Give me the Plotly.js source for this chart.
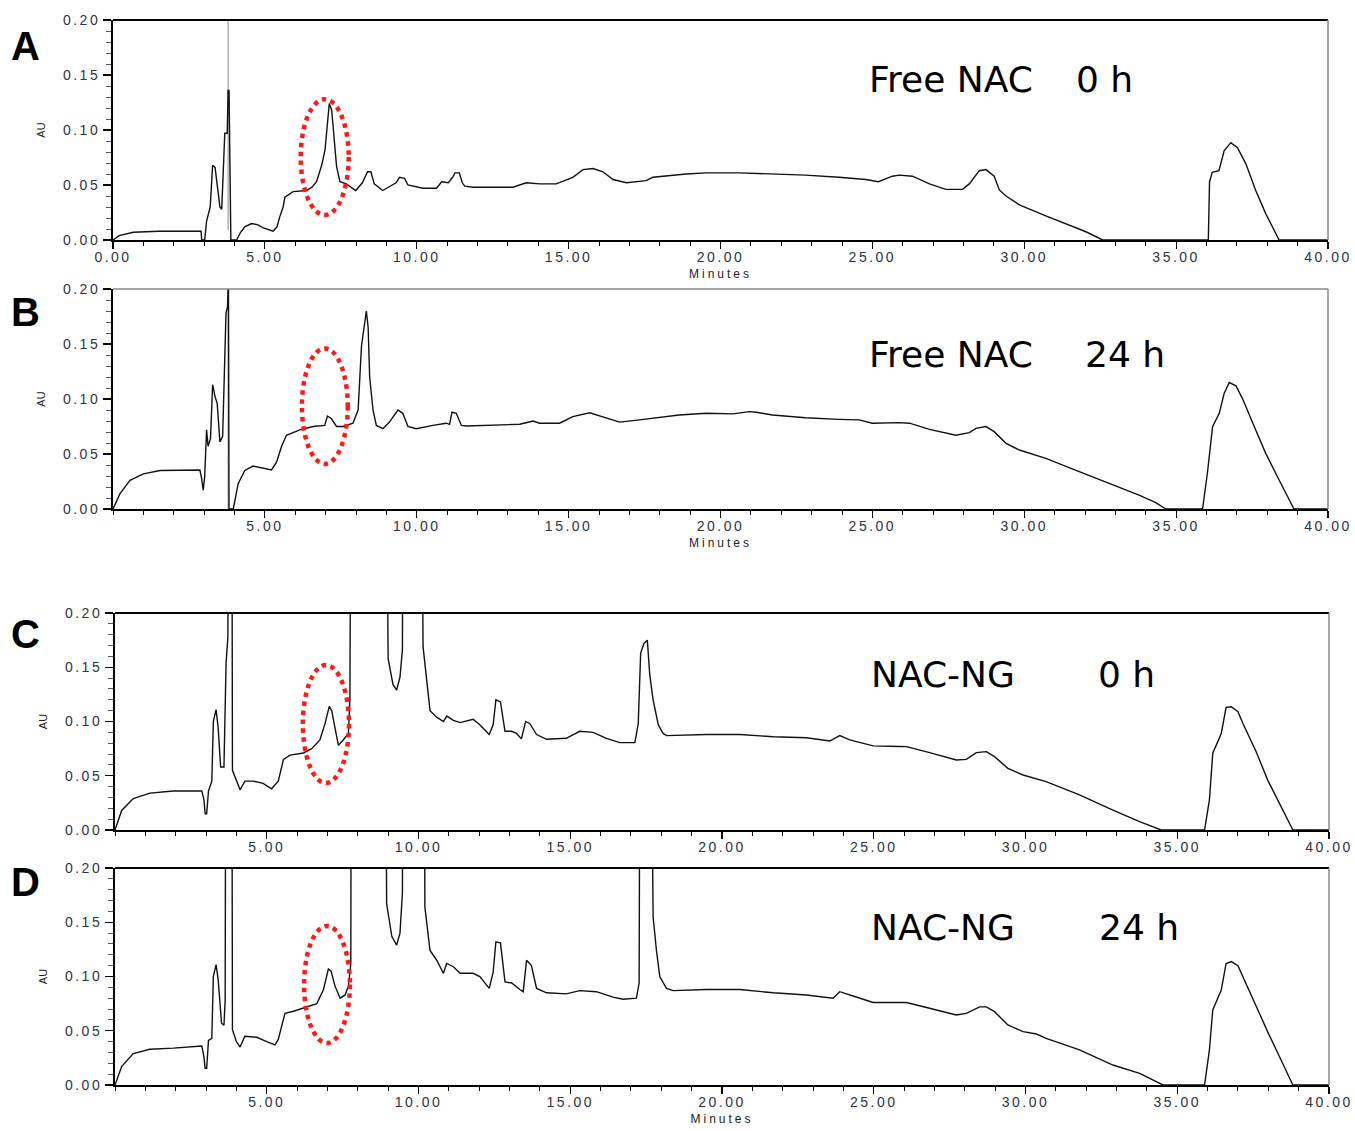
<!DOCTYPE html>
<html><head><meta charset="utf-8">
<script src="https://cdn.plot.ly/plotly-3.0.1.min.js"></script>
<style>
html,body{margin:0;padding:0;background:#fff;}
#chart{width:1355px;height:1131px;}
.xtick text,.x2tick text,.x3tick text,.x4tick text,
.ytick text,.y2tick text,.y3tick text,.y4tick text{letter-spacing:2.5px;}
.xtitle,.x2title,.x3title,.x4title{letter-spacing:3px;}
</style></head><body><div id="chart"></div>
<script>
// ---------- data (minutes, AU) ----------
const timeA = [0,0.2,0.67,1.5,2.9,2.92,3.02,3.08,3.2,3.28,3.36,3.45,3.52,3.58,3.63,3.68,3.76,3.79,3.82,3.84,3.86,3.88,4.07,4.2,4.34,4.56,4.75,4.95,5.27,5.4,5.49,5.6,5.66,5.8,5.93,6.37,6.55,6.7,6.87,6.98,7.05,7.12,7.2,7.28,7.36,7.47,7.68,7.99,8.21,8.38,8.49,8.6,8.88,9.32,9.43,9.6,9.71,10.2,10.65,10.82,11.04,11.18,11.26,11.4,11.5,11.58,11.85,13.17,13.6,14.04,14.59,15.14,15.47,15.8,16.13,16.46,16.9,17.55,17.77,18.87,19.53,20.62,21.71,22.8,23.9,24.78,25.2,25.66,25.89,26.32,26.88,27.42,27.97,28.19,28.52,28.74,29.01,29.18,29.4,29.84,30.71,31.37,32.03,32.58,36.06,36.1,36.19,36.41,36.58,36.8,37.02,37.3,37.62,37.95,38.22,38.39,40];
const auA   = [0,0.004,0.007,0.008,0.008,0,0,0.017,0.03,0.068,0.066,0.045,0.03,0.028,0.06,0.097,0.097,0.136,0.136,0.069,0.069,0,0,0.007,0.012,0.015,0.014,0.011,0.008,0.012,0.021,0.03,0.039,0.042,0.044,0.045,0.048,0.053,0.068,0.082,0.1,0.124,0.118,0.09,0.067,0.053,0.051,0.045,0.052,0.062,0.062,0.051,0.045,0.052,0.057,0.056,0.05,0.047,0.047,0.053,0.052,0.057,0.061,0.061,0.052,0.049,0.048,0.048,0.052,0.051,0.051,0.057,0.064,0.065,0.062,0.055,0.052,0.054,0.057,0.06,0.061,0.061,0.06,0.059,0.057,0.055,0.053,0.058,0.059,0.058,0.051,0.046,0.046,0.051,0.063,0.064,0.058,0.0455,0.04,0.032,0.022,0.015,0.0075,0,0,0.053,0.0615,0.063,0.081,0.0885,0.084,0.069,0.045,0.024,0.009,0,0];

const timeB = [0,0.23,0.56,1.0,1.55,2.86,2.91,2.97,3.02,3.08,3.13,3.21,3.28,3.36,3.43,3.52,3.61,3.66,3.72,3.77,3.8,3.82,3.96,4.12,4.34,4.61,4.93,5.22,5.39,5.55,5.71,6.15,6.59,6.97,7.06,7.19,7.36,7.58,7.9,8.07,8.18,8.27,8.34,8.4,8.45,8.56,8.67,8.89,9.1,9.38,9.54,9.71,9.98,10.53,10.97,11.08,11.16,11.3,11.47,11.63,13.39,13.83,14.04,14.7,15.14,15.69,16.13,16.68,17.33,17.88,18.64,19.53,20.41,20.95,21.17,21.71,22.8,23.9,24.56,25.0,25.88,26.22,26.88,27.75,28.19,28.41,28.74,29.01,29.4,29.84,30.71,31.81,32.91,33.78,34.33,34.66,35.87,36.03,36.2,36.42,36.58,36.75,36.97,37.18,37.62,37.95,38.39,38.66,38.88,40];
const auB   = [0,0.014,0.026,0.032,0.035,0.0354,0.029,0.017,0.03,0.072,0.057,0.064,0.113,0.102,0.096,0.061,0.066,0.114,0.178,0.184,0.21,0,0,0.023,0.035,0.039,0.037,0.0355,0.043,0.057,0.067,0.072,0.075,0.076,0.0845,0.082,0.075,0.075,0.078,0.09,0.148,0.167,0.18,0.165,0.12,0.09,0.076,0.073,0.079,0.09,0.087,0.075,0.073,0.076,0.078,0.077,0.088,0.087,0.076,0.0755,0.077,0.08,0.078,0.078,0.084,0.0875,0.084,0.079,0.081,0.083,0.0855,0.087,0.0865,0.0885,0.088,0.0855,0.083,0.0815,0.081,0.078,0.0785,0.078,0.0724,0.067,0.0694,0.0733,0.0749,0.0703,0.0597,0.0536,0.0461,0.034,0.0218,0.0127,0.0058,0,0,0.0327,0.0749,0.087,0.105,0.115,0.112,0.1006,0.0718,0.0506,0.0264,0.0112,0,0];

const timeC = [0,0.22,0.6,1.15,1.92,2.86,2.93,2.97,3.02,3.08,3.19,3.24,3.33,3.4,3.48,3.59,3.66,3.72,3.76,3.84,3.87,3.95,4.12,4.28,4.56,4.88,5.16,5.38,5.55,5.77,6.21,6.48,6.75,6.92,7.06,7.14,7.25,7.36,7.52,7.69,7.74,7.79,8.89,9.0,9.16,9.28,9.39,9.47,9.5,10.07,10.15,10.27,10.38,10.6,10.82,10.93,11.15,11.37,11.8,12.02,12.33,12.46,12.55,12.7,12.85,13.07,13.23,13.39,13.53,13.67,13.89,14.22,14.87,15.31,15.75,16.19,16.63,17.13,17.24,17.32,17.43,17.54,17.62,17.73,17.9,18.06,18.17,19.49,20.59,21.69,22.78,23.55,23.88,24.21,24.98,25.85,26.08,26.84,27.72,28.05,28.38,28.71,28.98,29.42,29.92,30.68,31.78,32.88,33.76,34.47,35.9,36.06,36.17,36.45,36.61,36.78,37.0,37.16,37.6,37.98,38.37,38.81,40];
const auC   = [0,0.018,0.029,0.034,0.036,0.036,0.028,0.015,0.015,0.036,0.045,0.1,0.111,0.094,0.058,0.058,0.154,0.178,0.5,0.5,0.055,0.049,0.037,0.045,0.045,0.043,0.038,0.045,0.065,0.069,0.071,0.075,0.083,0.098,0.114,0.11,0.092,0.078,0.083,0.089,0.12,0.5,0.5,0.158,0.134,0.129,0.141,0.166,0.5,0.5,0.169,0.135,0.11,0.104,0.1,0.105,0.101,0.099,0.102,0.097,0.088,0.097,0.12,0.118,0.091,0.091,0.089,0.084,0.1,0.098,0.088,0.0836,0.0845,0.091,0.09,0.0845,0.0805,0.0805,0.098,0.163,0.172,0.175,0.143,0.12,0.097,0.089,0.087,0.088,0.088,0.086,0.085,0.082,0.087,0.083,0.0775,0.077,0.0768,0.0713,0.0645,0.0651,0.0713,0.0722,0.0676,0.0568,0.0507,0.0446,0.0323,0.0184,0.0077,0,0,0.0277,0.0707,0.089,0.113,0.1136,0.109,0.0983,0.0722,0.046,0.0246,0,0];

const timeD = [0,0.22,0.6,1.15,1.92,2.86,2.93,2.97,3.02,3.08,3.19,3.24,3.33,3.4,3.51,3.59,3.63,3.66,3.84,3.87,4.0,4.12,4.28,4.67,5.0,5.27,5.38,5.6,5.88,6.32,6.65,6.87,7.03,7.12,7.25,7.42,7.58,7.69,7.77,7.79,8.89,8.95,9.12,9.28,9.39,9.47,9.5,10.18,10.21,10.38,10.6,10.82,10.93,11.15,11.37,11.8,12.02,12.33,12.46,12.55,12.7,12.85,13.07,13.34,13.45,13.56,13.72,13.89,14.22,14.87,15.31,15.86,16.41,16.74,17.18,17.27,17.31,17.62,17.73,17.84,17.95,18.17,18.39,19.49,20.59,21.69,22.78,23.66,23.88,24.32,24.98,25.85,26.08,26.84,27.72,28.05,28.49,28.71,28.98,29.42,29.92,30.36,30.68,31.78,32.88,33.76,34.53,35.9,36.06,36.17,36.45,36.61,36.78,37.0,37.16,37.6,37.98,38.37,38.81,40];
const auD   = [0,0.017,0.029,0.033,0.034,0.036,0.026,0.0154,0.0154,0.041,0.043,0.1,0.111,0.097,0.057,0.055,0.078,0.5,0.5,0.051,0.04,0.035,0.045,0.044,0.04,0.037,0.042,0.066,0.068,0.072,0.075,0.088,0.107,0.105,0.091,0.08,0.083,0.091,0.112,0.5,0.5,0.167,0.137,0.129,0.14,0.177,0.5,0.5,0.164,0.124,0.115,0.103,0.112,0.109,0.103,0.103,0.1,0.089,0.104,0.132,0.131,0.095,0.094,0.088,0.086,0.115,0.11,0.089,0.085,0.084,0.087,0.086,0.081,0.079,0.08,0.094,0.5,0.5,0.155,0.124,0.1,0.089,0.087,0.088,0.088,0.085,0.083,0.08,0.086,0.082,0.076,0.076,0.076,0.0707,0.0645,0.066,0.072,0.072,0.0676,0.0553,0.0492,0.047,0.043,0.0323,0.0184,0.0108,0,0,0.0323,0.0691,0.0876,0.112,0.1137,0.11,0.0999,0.0722,0.049,0.0261,0,0];

// injection / event marker lines (grey)
const markerTimeA = [3.79,3.79];
const markerAuA   = [0.009,0.2];
const markerTimeB = [3.79,3.79];
const markerAuB   = [0,0.2];

// labels
const panelLetters = ['A','B','C','D'];
const sampleNames  = ['Free NAC','Free NAC','NAC-NG','NAC-NG'];
const sampleTimes  = ['0 h','24 h','0 h','24 h'];
const xTickValsFirst = [0,5,10,15,20,25,30,35,40];
const xTickValsRest  = [5,10,15,20,25,30,35,40];
const yTickVals = [0,0.05,0.10,0.15,0.20];
const yTickText = ['0.00','0.05','0.10','0.15','0.20'];

// ---------- layout ----------
const W = 1355, H = 1131;
const px = v => v / W;
const py = v => 1 - v / H;

const panels = [
  {t: timeA, a: auA, left:113, right:1328, top:20,  bottom:240,  xt: xTickValsFirst, title:true,  topColor:'#000', topW:2},
  {t: timeB, a: auB, left:113, right:1328, top:289, bottom:509,  xt: xTickValsRest,  title:true,  topColor:'#888', topW:1.5},
  {t: timeC, a: auC, left:115, right:1329, top:613, bottom:830,  xt: xTickValsRest,  title:false, topColor:'#000', topW:2},
  {t: timeD, a: auD, left:115, right:1329, top:868, bottom:1085, xt: xTickValsRest,  title:true,  topColor:'#000', topW:2}
];

const tickFont = {family:'Liberation Sans, Arial, sans-serif', size:14, color:'#2e3440'};
const layout = {
  width: W, height: H,
  margin: {l:0, r:0, t:0, b:0},
  paper_bgcolor: '#fff', plot_bgcolor: '#fff',
  showlegend: false,
  shapes: [], annotations: []
};
const data = [];

// ellipse positions (minutes / AU) around the NAC peak
const ellipses = [
  {x0:6.18, x1:7.76, y0:0.0227, y1:0.128},
  {x0:6.22, x1:7.73, y0:0.041,  y1:0.146},
  {x0:6.19, x1:7.71, y0:0.0433, y1:0.152},
  {x0:6.23, x1:7.74, y0:0.0387, y1:0.1465}
];
const nameLeft = [867, 867, 869, 869];
const timeLeft = [1074, 1083, 1096, 1097];
const textMid  = [80, 354, 674, 927];
const letterMid = [46, 312, 634, 882];

panels.forEach((p, i) => {
  const n = i === 0 ? '' : String(i + 1);
  const xa = 'x' + n, ya = 'y' + n;
  data.push({x: p.t, y: p.a, xaxis: xa, yaxis: ya, type: 'scatter', mode: 'lines',
             line: {color: '#111', width: 1.4}, hoverinfo: 'skip'});
  layout['xaxis' + n] = {
    domain: [px(p.left), px(p.right)], anchor: ya, range: [0, 40],
    showline: true, linecolor: '#000', linewidth: 2, mirror: false,
    showgrid: false, zeroline: false,
    ticks: 'outside', ticklen: 7, tickwidth: 1.2, tickcolor: '#000',
    tickmode: 'array', tickvals: p.xt, ticktext: p.xt.map(v => v.toFixed(2)),
    tickfont: tickFont, ticklabelstandoff: -4,
    minor: {tickmode: 'linear', tick0: 0, dtick: 1, ticks: 'outside', ticklen: 4, tickwidth: 1, tickcolor: '#000', showgrid: false},
    title: p.title ? {text: 'Minutes', font: {family: 'Liberation Sans, Arial, sans-serif', size: 12, color: '#222'}, standoff: 6} : {text: ''}
  };
  layout['yaxis' + n] = {
    domain: [py(p.bottom), py(p.top)], anchor: xa, range: [0, 0.2],
    showline: true, linecolor: '#000', linewidth: 2,
    showgrid: false, zeroline: false,
    ticks: 'outside', ticklen: 8, tickwidth: 1.2, tickcolor: '#000',
    tickmode: 'array', tickvals: yTickVals, ticktext: yTickText,
    tickfont: tickFont,
    minor: {tickmode: 'linear', tick0: 0, dtick: 0.01, ticks: 'outside', ticklen: 5, tickwidth: 1, tickcolor: '#555', showgrid: false},
    title: {text: 'AU', font: {family: 'Liberation Sans, Arial, sans-serif', size: 11, color: '#222'}, standoff: 15}
  };
  // frame: top and right
  layout.shapes.push({type: 'line', xref: xa + ' domain', yref: ya + ' domain', x0: 0, x1: 1, y0: 1, y1: 1,
                      line: {color: p.topColor, width: p.topW}});
  layout.shapes.push({type: 'line', xref: xa + ' domain', yref: ya + ' domain', x0: 1, x1: 1, y0: 0, y1: 1,
                      line: {color: '#8a8a8a', width: 1.5}});
  // red dotted ellipse
  const e = ellipses[i];
  layout.shapes.push({type: 'circle', xref: xa, yref: ya, x0: e.x0, x1: e.x1, y0: e.y0, y1: e.y1,
                      line: {color: '#ff1a1a', width: 4.5, dash: 'dot'}});
  // panel letter
  layout.annotations.push({text: '<b>' + panelLetters[i] + '</b>', xref: 'paper', yref: 'paper',
    x: px(9), y: py(letterMid[i]), xanchor: 'left', yanchor: 'middle', showarrow: false,
    font: {family: 'Liberation Sans, Arial, sans-serif', size: 40, color: '#000'}});
  // sample labels
  layout.annotations.push({text: sampleNames[i], xref: 'paper', yref: 'paper',
    x: px(nameLeft[i]), y: py(textMid[i]), xanchor: 'left', yanchor: 'middle', showarrow: false,
    font: {family: 'DejaVu Sans, sans-serif', size: 36, color: '#000'}});
  layout.annotations.push({text: sampleTimes[i], xref: 'paper', yref: 'paper',
    x: px(timeLeft[i]), y: py(textMid[i]), xanchor: 'left', yanchor: 'middle', showarrow: false,
    font: {family: 'DejaVu Sans, sans-serif', size: 36, color: '#000'}});
});

// grey event marker lines in A and B
data.unshift({x: markerTimeA, y: markerAuA, xaxis: 'x', yaxis: 'y', type: 'scatter', mode: 'lines',
              line: {color: '#8c8c8c', width: 1}, hoverinfo: 'skip'});
data.unshift({x: markerTimeB, y: markerAuB, xaxis: 'x2', yaxis: 'y2', type: 'scatter', mode: 'lines',
              line: {color: '#8c8c8c', width: 1}, hoverinfo: 'skip'});

Plotly.newPlot('chart', data, layout, {staticPlot: true, displayModeBar: false});
</script></body></html>
